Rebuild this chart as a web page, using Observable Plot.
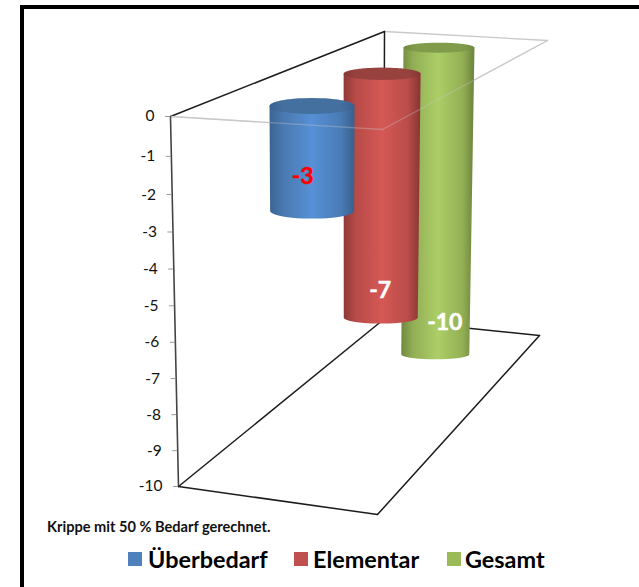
<!DOCTYPE html>
<html lang="de"><head><meta charset="utf-8">
<style>
html,body{margin:0;padding:0;background:#fff;overflow:hidden}
#page{position:relative;width:639px;height:587px;overflow:hidden;font-family:Lato,sans-serif}
#page svg{display:block;position:absolute;left:0;top:0}
#border{position:absolute;left:20px;top:5px;right:-10px;bottom:-10px;border-left:4px solid #000;border-top:4px solid #000}
#note{position:absolute;left:47px;top:518px;font:bold 14.6px Lato,sans-serif;color:#111;white-space:nowrap}
.sw{position:absolute;top:552px;width:14px;height:14px}
.lg{position:absolute;top:545px;font:bold 23.4px/28px Lato,sans-serif;color:#000;white-space:nowrap}
</style>
<script src="https://cdn.jsdelivr.net/npm/d3@7"></script>
<script src="https://cdn.jsdelivr.net/npm/@observablehq/plot@0.6"></script>
</head><body><div id="page"><div id="border"></div></div>
<script>
// Data
const categories = ["Überbedarf", "Elementar", "Gesamt"];
const values = [-2.9, -7.4, -10.1];
const tickValues = [0, -1, -2, -3, -4, -5, -6, -7, -8, -9, -10];
const swatchColors = ["#4f81bd", "#c0504d", "#9bbb59"];
const labelColors = ["#ff0000", "#ffffff", "#ffffff"];
const note = "Krippe mit 50 % Bedarf gerechnet.";

// Layout of the pseudo-3D box (screen units) and styling
const W = 639, H = 587;
const yDomain = [0, -10], yRange = [116, 486], yExp = 0.967;
const yPx = d3.scalePow().exponent(yExp).domain(yDomain).range(yRange);
const ceiling = [[170,116],[382,129],[547,40],[384,31]]; // near-left, near-right, far-right, far-left
const floor   = [[178,486],[377,514],[539,335],[383,319]];
const lerp = (a,b,t) => a + (b-a)*t;
const quad = (q,u,v) => [0,1].map(i => lerp(lerp(q[0][i],q[1][i],u), lerp(q[3][i],q[2][i],u), v));
const project = (u,v,val) => {
  const a = quad(ceiling,u,v), b = quad(floor,u,v), t = -val/10;
  return [lerp(a[0],b[0],t), lerp(a[1],b[1],t)];
};
const depth = [0.19, 0.56, 0.86];
const halfTop = [42.5, 38.5, 35.5], halfBot = [42, 37, 34];
const minorR = [8, 6.2, 5];
const labelDx = [-10, -1, 9], labelDy = [-35, -27, -32];
const stops = [
  ["#3a6492","#4a79b0","#5690d6","#497bb5","#38608c"],
  ["#8e3937","#b84b48","#d55855","#b94c49","#853533"],
  ["#70883f","#92ae55","#acce67","#93af54","#6b823c"]];
const capCol = [["#3a6290","#44709f"],["#873734","#98423f"],["#708a40","#809c4a"]];

const bodyProfile = i => {
  const [cx0,cy0] = project(.5,depth[i],0), [cx1,cy1] = project(.5,depth[i],values[i]);
  const b = minorR[i], out = [];
  for (let p = cy0; p <= cy1 + b + 1e-6; p += (p < cy1 ? 1 : 0.25)) {
    const t = Math.min(1,(p-cy0)/(cy1-cy0));
    let h = lerp(halfTop[i],halfBot[i],t);
    if (p > cy1) h *= Math.sqrt(Math.max(0,1-((p-cy1)/b)**2));
    const c = lerp(cx0,cx1,t);
    out.push({y:yPx.invert(p),x1:c-h,x2:c+h});
  }
  return out;
};
const capProfile = i => {
  const [cx,cy] = project(.5,depth[i],0), a = halfTop[i], b = minorR[i], out = [];
  for (let k = -40; k <= 40; k++) {
    const s = k/40, h = a*Math.sqrt(1-s*s);
    out.push({y:yPx.invert(cy+s*b),x1:cx-h,x2:cx+h});
  }
  return out;
};
const seg = (p,q) => { const a = project(...p), b = project(...q); return [{x:a[0],y:yPx.invert(a[1])},{x:b[0],y:yPx.invert(b[1])}]; };
const line = (p,q,o) => Plot.line(seg(p,q),{x:"x",y:"y",...o});
const black = {stroke:"#1c1c1c",strokeWidth:1.5}, grey = {stroke:"#c9c9c9",strokeWidth:1.3};
const A=[0,0,0],B=[0,1,0],C=[1,0,0],D=[1,1,0],Af=[0,0,-10],Bf=[0,1,-10],Cf=[1,0,-10],Df=[1,1,-10];

const defs = () => {
  const d = d3.create("svg:defs");
  const grad = (id,cols) => {
    const g = d.append("linearGradient").attr("id",id);
    [0,.16,.5,.84,1].forEach((o,k)=>g.append("stop").attr("offset",o).attr("stop-color",cols[k]));
  };
  stops.forEach((c,i)=>grad("body"+i,c));
  capCol.forEach((c,i)=>grad("cap"+i,[c[0],c[1],c[1],c[1],c[0]]));
  return d.node();
};

const order = [2,1,0];
const cylinders = order.flatMap(i => [
  Plot.areaX(bodyProfile(i),{y:"y",x1:"x1",x2:"x2",fill:`url(#body${i})`}),
  Plot.areaX(capProfile(i),{y:"y",x1:"x1",x2:"x2",fill:`url(#cap${i})`})
]);
const labelData = categories.map((c,i)=>{
  const [x,y] = project(.5,depth[i],values[i]);
  return {x:x+labelDx[i],y:yPx.invert(y+labelDy[i]),text:String(Math.round(values[i])),color:labelColors[i]};
});
const wallX = v => project(0,0,v)[0];

const chart = Plot.plot({
  width:W,height:H,margin:0,
  x:{domain:[0,W],range:[0,W],axis:null},
  y:{type:"pow",exponent:yExp,domain:yDomain,range:yRange,axis:null},
  style:{background:"transparent",overflow:"visible"},
  marks:[
    defs,
    line(B,D,grey),
    line(A,B,black),line(B,Bf,black),
    line(Af,Bf,black),line(Df,Bf,black),
    line(A,C,grey),line(C,D,grey),
    ...cylinders,
    line(A,C,{...grey,strokeOpacity:.35}),line(C,D,{...grey,strokeOpacity:.35}),
    line(A,Af,{stroke:"#444",strokeWidth:1.6}),
    line(Af,Cf,black),line(Cf,Df,black),
    Plot.axisY({
      ticks:tickValues,x:wallX,anchor:"left",tickSize:5,tickPadding:11,stroke:"#999",
      tickFormat:d=>String(d),fontSize:15.5,fontFamily:"Lato, sans-serif",color:"#111",label:null
    }),
    Plot.text(labelData,{x:"x",y:"y",text:"text",fill:"color",stroke:"color",strokeWidth:0.5,fontSize:23,fontWeight:"bold",fontFamily:"Lato, sans-serif"})
  ]
});
const page = document.getElementById("page");
page.appendChild(chart);
const n = document.createElement("div"); n.id="note"; n.textContent=note; page.appendChild(n);
const swX=[128,294,447], txX=[148,313,465];
categories.forEach((c,i)=>{
  const s=document.createElement("div"); s.className="sw"; s.style.left=swX[i]+"px"; s.style.background=swatchColors[i]; page.appendChild(s);
  const t=document.createElement("div"); t.className="lg"; t.style.left=txX[i]+"px"; t.textContent=c; page.appendChild(t);
});
</script></body></html>
